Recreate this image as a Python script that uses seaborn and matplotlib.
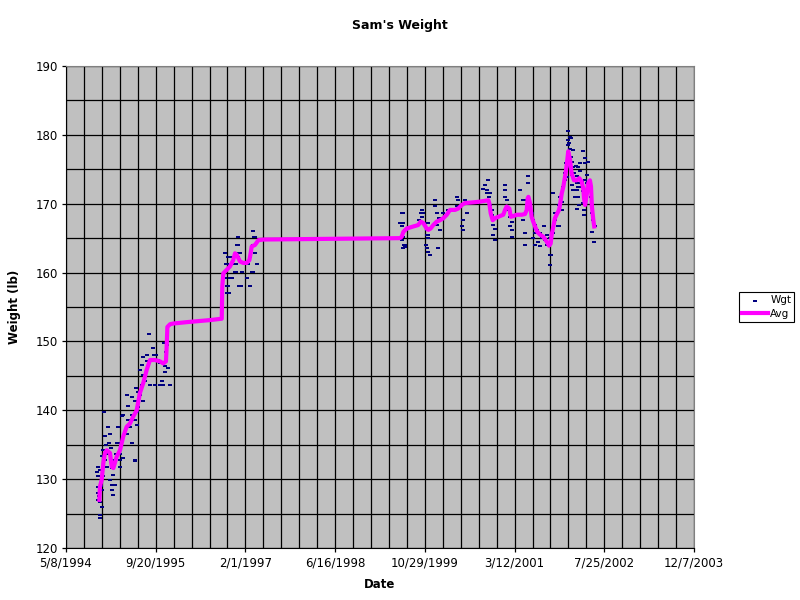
import pandas as pd
import seaborn as sns
import matplotlib.pyplot as plt
import matplotlib.dates as mdates

# days since 5/8/1994, weight in lb
wgt_1995 = [
    (171, 131.1), (180, 131.8), (180, 130.4), (180, 128.9), (180, 128.0), (180, 127.0),
    (185, 127.5), (189, 131.3), (189, 124.8), (189, 124.3), (189, 126.7), (194, 129.0),
    (199, 133.3), (199, 128.4), (199, 126.0), (204, 130.5), (208, 134.2), (213, 139.7),
    (217, 136.2), (217, 132.8), (222, 135.0), (227, 133.7), (227, 131.8),
    (236, 137.6), (241, 135.2), (245, 136.6), (245, 129.9), (250, 134.5), (255, 132.8),
    (255, 131.6), (255, 129.2), (255, 128.4), (264, 130.6), (264, 127.7), (273, 129.2),
    (280, 133.7), (287, 135.2), (291, 137.6), (291, 133.7), (296, 135.2), (300, 133.7),
    (301, 132.8), (301, 131.8), (312, 139.2), (318, 139.3), (319, 133.0), (338, 136.6),
    (338, 142.2), (347, 140.6), (347, 138.6), (357, 137.6), (366, 135.2), (366, 142.0),
    (366, 139.3), (373, 139.2), (383, 132.8), (385, 132.6), (385, 141.3), (385, 138.6),
    (390, 143.2), (394, 139.8), (394, 137.9), (403, 142.7), (403, 140.5), (412, 142.2),
    (412, 145.9), (422, 146.6), (422, 143.7), (431, 147.7), (431, 145.1), (431, 141.3),
    (440, 144.2), (450, 148.0), (450, 147.1), (464, 151.1), (468, 143.7), (487, 149.0),
    (490, 148.0), (496, 148.0), (496, 143.7), (502, 148.0), (514, 147.3), (524, 146.8),
    (524, 143.6), (533, 144.2), (541, 143.6), (546, 149.8), (552, 146.4), (552, 145.6),
    (557, 148.5), (565, 149.5), (570, 146.2), (580, 143.6),
]
wgt_1997 = [
    (868, 156.0), (886, 162.9), (886, 160.1), (886, 159.2), (892, 161.2), (897, 158.0),
    (897, 157.1), (898, 161.2), (903, 162.2), (903, 158.0), (908, 157.1), (910, 162.2),
    (914, 159.2), (918, 162.2), (926, 159.2), (942, 161.2), (942, 160.1), (948, 161.2),
    (948, 160.1), (949, 162.9), (953, 164.0), (958, 164.0), (959, 162.9), (960, 165.1),
    (960, 162.2), (964, 158.0), (968, 162.9), (973, 158.0), (979, 160.1), (1003, 161.2),
    (1007, 159.2), (1012, 161.2), (1025, 162.2), (1025, 158.0), (1037, 160.1), (1043, 160.1),
    (1044, 166.0), (1044, 164.0), (1048, 165.1), (1052, 165.1), (1053, 162.9), (1063, 161.2),
]
wgt_2000 = [
    (1861, 167.2), (1871, 166.7), (1871, 164.7), (1873, 168.6), (1876, 168.6), (1880, 167.2),
    (1880, 165.2), (1880, 163.5), (1884, 164.0), (1889, 166.2), (1889, 164.0), (1889, 163.7),
    (1893, 166.2), (1969, 167.6), (1976, 168.6), (1982, 169.1), (1982, 168.6), (1982, 168.1),
    (1987, 168.6), (1999, 167.2), (2004, 167.2), (2006, 164.0), (2010, 163.5), (2013, 166.2),
    (2013, 165.5), (2017, 166.2), (2019, 167.2), (2019, 165.5), (2019, 165.0), (2019, 163.0),
    (2029, 162.6), (2056, 170.5), (2056, 169.6), (2066, 168.6), (2066, 166.9), (2075, 163.6),
    (2079, 167.9), (2082, 167.9), (2084, 166.2), (2103, 168.6), (2131, 169.1), (2140, 169.1),
    (2177, 169.6), (2177, 171.0), (2182, 169.6), (2186, 170.5), (2205, 166.7), (2214, 167.6),
    (2214, 166.2), (2224, 170.5), (2233, 168.6), (2326, 172.1), (2335, 172.7), (2345, 171.5),
    (2345, 172.0), (2354, 173.4), (2363, 171.5),
]
wgt_2002 = [
    (2359, 171.0), (2363, 169.8), (2372, 169.1), (2372, 168.4), (2381, 167.6), (2381, 166.9),
    (2381, 165.5), (2391, 166.4), (2391, 164.7), (2447, 172.7), (2447, 172.0), (2447, 171.0),
    (2456, 170.5), (2456, 169.5), (2465, 169.1), (2474, 168.1), (2474, 166.7), (2484, 167.4),
    (2484, 166.2), (2484, 165.2), (2530, 172.0), (2549, 170.5), (2549, 167.6), (2558, 165.7),
    (2558, 164.0), (2568, 170.5), (2573, 174.0), (2577, 173.0), (2577, 170.1), (2595, 168.6),
    (2604, 167.6), (2604, 165.0), (2614, 166.9), (2614, 166.4), (2614, 165.7), (2614, 164.0),
    (2623, 166.2), (2632, 164.5), (2642, 165.7), (2642, 163.8), (2651, 165.0), (2665, 166.7),
    (2670, 164.7), (2679, 165.5), (2679, 164.0), (2697, 165.0), (2697, 162.6), (2697, 161.1),
    (2703, 162.6), (2712, 171.6), (2716, 165.7), (2725, 168.6), (2725, 167.6), (2735, 168.6),
    (2742, 166.7), (2748, 166.7), (2749, 169.8), (2753, 171.0), (2763, 170.3), (2763, 169.1),
    (2772, 172.5), (2781, 173.4), (2781, 174.4), (2787, 175.9), (2790, 173.9), (2796, 177.3),
    (2799, 178.5), (2799, 179.3), (2799, 180.6), (2799, 175.4), (2805, 178.8), (2809, 179.7),
    (2809, 178.0), (2812, 179.6), (2812, 176.8), (2815, 175.0), (2818, 174.2), (2818, 172.7),
    (2822, 176.0), (2827, 175.4), (2827, 172.0), (2827, 177.8), (2833, 174.5), (2837, 171.0),
    (2837, 173.4), (2840, 175.5), (2846, 173.0), (2846, 172.0), (2846, 169.3), (2850, 174.0),
    (2855, 172.5), (2855, 175.4), (2855, 171.0), (2857, 169.8), (2860, 173.5), (2864, 175.9),
    (2864, 174.7), (2868, 173.0), (2874, 172.5), (2878, 173.2), (2879, 177.7), (2883, 171.8),
    (2883, 170.1), (2887, 171.0), (2887, 169.1), (2887, 168.4), (2892, 176.6), (2892, 175.9),
    (2895, 173.5), (2902, 174.2), (2902, 171.8), (2905, 173.0), (2911, 176.0), (2911, 173.2),
    (2911, 172.5), (2920, 172.0), (2925, 171.0), (2930, 169.6), (2930, 168.6), (2930, 165.9),
    (2939, 167.6), (2943, 164.5), (2948, 166.7),
]

avg_pts = [
    (186, 127.0), (189, 128.9), (199, 129.9), (208, 132.3), (217, 133.8), (227, 134.2),
    (245, 133.8), (255, 131.8), (264, 131.6), (283, 133.3), (301, 134.2), (319, 136.2),
    (338, 137.6), (357, 138.1), (375, 139.1), (394, 140.0), (412, 142.5), (431, 144.0),
    (450, 145.9), (468, 147.3), (496, 147.3), (524, 147.1), (542, 146.8), (557, 147.1),
    (561, 149.2), (565, 152.1), (580, 152.5), (598, 152.6), (673, 152.8), (803, 153.1),
    (868, 153.3), (871, 158.0), (877, 159.9), (896, 160.4), (914, 160.9), (932, 161.8),
    (942, 162.8), (951, 162.6), (970, 161.6), (988, 161.4), (1007, 161.4), (1022, 161.8),
    (1029, 162.8), (1035, 163.8), (1053, 164.0), (1072, 164.7), (1100, 164.8), (1471, 164.9),
    (1861, 165.0), (1871, 165.2), (1880, 165.9), (1899, 166.4), (1936, 166.7), (1963, 166.9),
    (1977, 167.4), (1991, 167.2), (2010, 166.4), (2019, 166.2), (2032, 166.4), (2047, 166.9),
    (2066, 167.4), (2084, 167.6), (2103, 167.9), (2122, 168.4), (2140, 169.1), (2168, 169.1),
    (2186, 169.3), (2205, 169.8), (2224, 170.1), (2270, 170.2), (2307, 170.3), (2354, 170.5),
    (2359, 170.1), (2367, 168.6), (2378, 167.6), (2391, 167.9), (2409, 168.1), (2437, 168.4),
    (2447, 169.1), (2456, 169.6), (2471, 169.3), (2479, 168.1), (2493, 168.2), (2512, 168.4),
    (2540, 168.4), (2558, 168.5), (2568, 169.1), (2573, 170.8), (2577, 171.0), (2586, 170.1),
    (2595, 168.1), (2604, 167.4), (2614, 166.7), (2627, 165.9), (2642, 165.5), (2660, 165.2),
    (2679, 164.5), (2692, 163.9), (2701, 164.2), (2707, 165.5), (2716, 166.7), (2725, 167.9),
    (2738, 168.6), (2748, 169.1), (2753, 169.8), (2763, 171.5), (2772, 172.5), (2781, 173.9),
    (2787, 174.9), (2794, 176.4), (2799, 177.6), (2809, 176.4), (2818, 174.4), (2831, 173.4),
    (2846, 173.4), (2861, 173.7), (2874, 173.2), (2883, 172.2), (2887, 170.8), (2893, 169.8),
    (2902, 171.3), (2911, 173.0), (2920, 173.4), (2926, 172.5), (2931, 169.6), (2939, 167.6),
    (2944, 166.7),
]

start = pd.Timestamp("1994-05-08")
y_ticks = [120, 130, 140, 150, 160, 170, 180, 190]


def to_frame(pts):
    df = pd.DataFrame(pts, columns=["day", "Weight"])
    df["Date"] = start + pd.to_timedelta(df["day"], unit="D")
    return df


wgt = to_frame(wgt_1995 + wgt_1997 + wgt_2000 + wgt_2002)
avg = to_frame(avg_pts)

fig = plt.figure(figsize=(8, 6), dpi=100)
ax = fig.add_axes([66 / 800, 1 - 548 / 600, 628 / 800, 482 / 600])
ax.set_facecolor("#c0c0c0")

# small flat dash, like the Excel marker
dash = [(-1.5, -1), (1.5, -1), (1.5, 1), (-1.5, 1)]

sns.scatterplot(data=wgt, x="Date", y="Weight", marker=dash, s=9, color="#000080",
                linewidth=0, ax=ax, label="Wgt", zorder=3)
sns.lineplot(data=avg, x="Date", y="Weight", color="#ff00ff", linewidth=3,
             estimator=None, sort=False, ax=ax, label="Avg", zorder=4)

# x axis: ticks every 500 days, grid every 100 days
major = [start + pd.Timedelta(days=500 * k) for k in range(8)]
minor = [start + pd.Timedelta(days=100 * k) for k in range(36)]
ax.set_xlim(mdates.date2num(major[0]), mdates.date2num(major[-1]))
ax.set_xticks(mdates.date2num(major))
ax.set_xticklabels([f"{d.month}/{d.day}/{d.year}" for d in major])
ax.set_xticks(mdates.date2num(minor), minor=True)

ax.set_ylim(120, 190)
ax.set_yticks(y_ticks)
ax.set_yticks(range(120, 191, 5), minor=True)

ax.set_axisbelow(True)
ax.grid(which="both", color="black", linewidth=0.9)
ax.tick_params(which="major", length=3, width=0.9, direction="out", labelsize=8.5, pad=3)
ax.tick_params(which="minor", length=0)
for side in ["left", "bottom"]:
    ax.spines[side].set_color("black")
for side in ["top", "right"]:
    ax.spines[side].set_color("#808080")

ax.set_xlabel("Date", fontweight="bold", fontsize=8.5, labelpad=6)
ax.set_ylabel("Weight (lb)", fontweight="bold", fontsize=8.5, labelpad=10)
fig.text(0.5, 1 - 26 / 600, "Sam's Weight", ha="center", va="center",
         fontweight="bold", fontsize=9)

handles, labels = ax.get_legend_handles_labels()
order = [labels.index("Wgt"), labels.index("Avg")]
ax.legend([handles[i] for i in order], [labels[i] for i in order],
          loc="center left", bbox_to_anchor=(739 / 800, 1 - 307 / 600),
          bbox_transform=fig.transFigure, fontsize=7.5, frameon=True,
          fancybox=False, edgecolor="black", framealpha=1, borderpad=0.3,
          handlelength=2.5, handletextpad=0.2, labelspacing=0.3,
          borderaxespad=0, markerscale=0.8)
ax.get_legend().get_frame().set_linewidth(0.8)

fig.savefig("out.png", dpi=100)
plt.close()
